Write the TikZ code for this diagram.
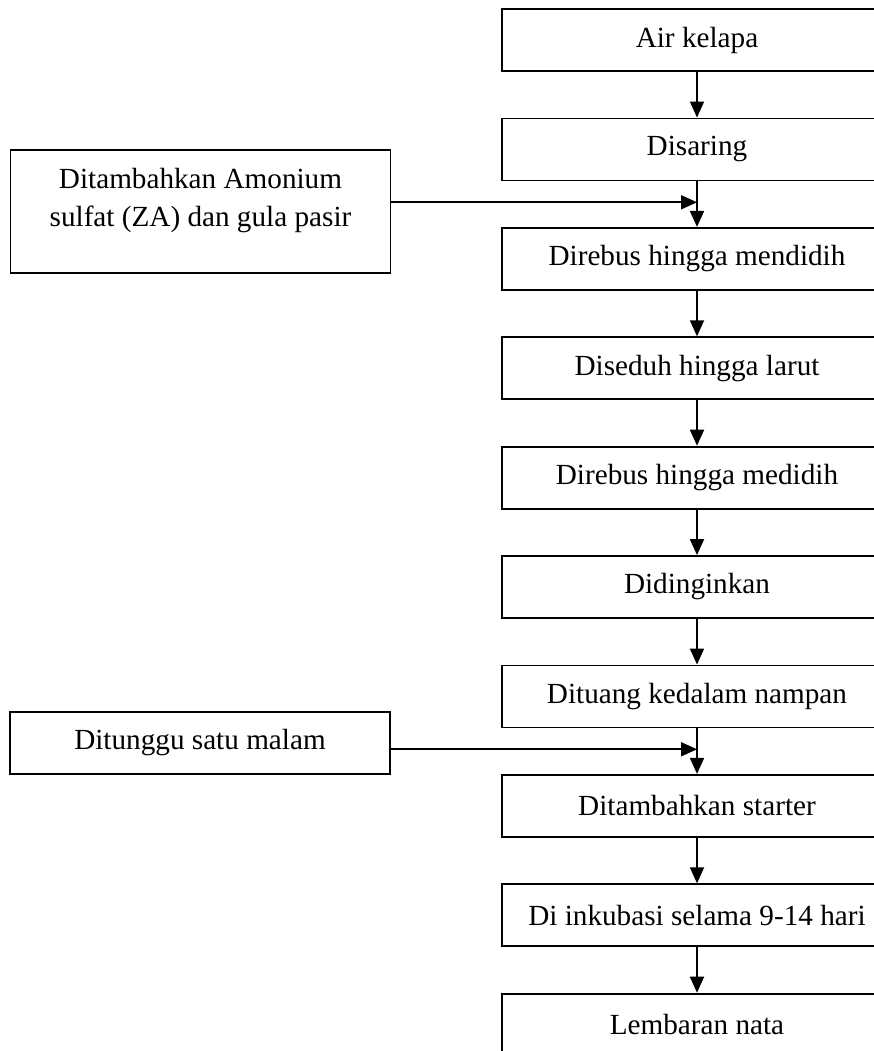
\documentclass[tikz,border=0pt]{standalone}
\usepackage{fontspec}
\setmainfont{Liberation Serif}
\usetikzlibrary{arrows.meta,positioning,calc}
\begin{document}
\begin{tikzpicture}[x=0.5pt,y=-0.5pt,>={Triangle[length=8pt,width=7pt]},line join=miter,line width=0.9pt,
	font=\fontsize{14.6}{19}\selectfont,node distance=22.8pt,
	langkah/.style={draw,minimum width=195pt,minimum height=31pt,inner sep=0pt},
	tambahan/.style={draw,minimum width=190pt,align=center,inner sep=0pt}]
	\useasboundingbox (0,0) rectangle (874,1051);
	\clip (0,0) rectangle (874,1051);
	% langkah utama
	\node[langkah] (air) at (697,40) {Air kelapa};
	\node[langkah,below=of air] (saring) {Disaring};
	\node[langkah,below=of saring] (rebus1) {Direbus hingga mendidih};
	\node[langkah,below=of rebus1] (seduh) {Diseduh hingga larut};
	\node[langkah,below=of seduh] (rebus2) {Direbus hingga medidih};
	\node[langkah,below=of rebus2] (dingin) {Didinginkan};
	\node[langkah,below=of dingin] (tuang) {Dituang kedalam nampan};
	\node[langkah,below=of tuang] (starter) {Ditambahkan starter};
	\node[langkah,below=of starter] (inkubasi) {Di inkubasi selama 9-14 hari};
	\node[langkah,below=of inkubasi] (nata) {Lembaran nata};
	% bahan tambahan
	\node[tambahan,minimum height=61.5pt] (za) at (200.5,211.5) {Ditambahkan Amonium\\sulfat (ZA) dan gula pasir\\[-5pt]\mbox{}};
	\node[tambahan,minimum height=31pt] (tunggu) at (200,743) {Ditunggu satu malam};
	\coordinate (j1) at ($(saring.south)!.46!(rebus1.north)$);
	\coordinate (j2) at ($(tuang.south)!.46!(starter.north)$);
	% panah
	\foreach \a/\b in {air/saring,saring/rebus1,rebus1/seduh,seduh/rebus2,rebus2/dingin,dingin/tuang,tuang/starter,starter/inkubasi,inkubasi/nata}
		\draw[->] (\a) -- (\b);
	\draw[->] (za.east |- j1) -- (j1);
	\draw[->] (tunggu.east |- j2) -- (j2);
\end{tikzpicture}
\end{document}
